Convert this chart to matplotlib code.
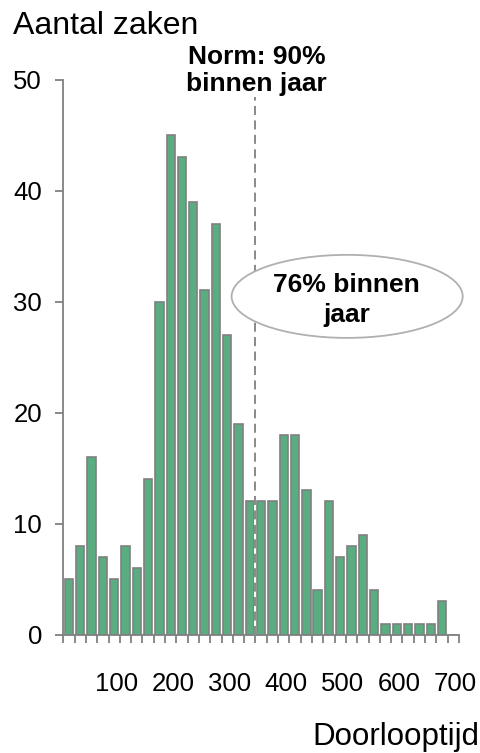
import matplotlib
matplotlib.use("Agg")
import matplotlib.pyplot as plt
from matplotlib.patches import Ellipse

# ---- data ----
counts = [5, 8, 16, 7, 5, 8, 6, 14, 30, 45, 43, 39, 31, 37, 27, 19, 12, 12,
          12, 18, 18, 13, 4, 12, 7, 8, 9, 4, 1, 1, 1, 1, 1, 3, 0]
x_labels = ["100", "200", "300", "400", "500", "600", "700"]
y_ticks = [0, 10, 20, 30, 40, 50]
norm_boundary = 17          # category boundary of the "one year" line
title_y = "Aantal zaken"
title_x = "Doorlooptijd"
norm_text = ["Norm: 90%", "binnen jaar"]
bubble_text = ["76% binnen", "jaar"]

FONT = ["Liberation Sans", "DejaVu Sans"]
plt.rcParams["font.family"] = FONT

W, H = 480, 753
fig = plt.figure(figsize=(W / 100, H / 100), dpi=100)
fig.patch.set_facecolor("white")

ax_left, ax_right = 63.3, 459.0
ax_top, ax_bottom = 79.5, 634.7
ax = fig.add_axes([ax_left / W, 1 - ax_bottom / H,
                   (ax_right - ax_left) / W, (ax_bottom - ax_top) / H])

n = len(counts)
pos = [i + 0.5 for i in range(n)]
ax.bar(pos, counts, width=0.74, color="#59ad80", edgecolor="#808080",
       linewidth=1.2, zorder=2)

ax.set_xlim(0, n)
ax.set_ylim(0, 50)

gray = "#808080"
for s in ["top", "right"]:
    ax.spines[s].set_visible(False)
for s in ["left", "bottom"]:
    ax.spines[s].set_color(gray)
    ax.spines[s].set_linewidth(1.3)

ax.set_yticks(y_ticks)
ax.set_yticklabels([str(v) for v in y_ticks])
ax.tick_params(axis="y", direction="out", length=5.8, width=1.3, color=gray,
               labelsize=18.5, pad=9.5, labelcolor="black")

# category boundary ticks (minor) and offset labels (major)
ax.set_xticks(range(0, n + 1), minor=True)
ax.tick_params(axis="x", which="minor", direction="out", length=5.8,
               width=1.3, color=gray)
label_pos = [5 * (k + 1) - 0.3 for k in range(len(x_labels))]
ax.set_xticks(label_pos)
ax.set_xticklabels(x_labels)
ax.tick_params(axis="x", which="major", length=0, labelsize=18.5, pad=26.5,
               labelcolor="black")

# norm line
ax.plot([norm_boundary, norm_boundary], [0, 48.4], color="white", lw=1.4,
        zorder=3, solid_capstyle="butt")
ax.plot([norm_boundary, norm_boundary], [0, 48.4], color=gray, lw=1.3,
        dashes=(5, 3), zorder=4)

# bubble
cx = (347 - ax_left) / 11.3
cy = (ax_bottom - 296.5) / 11.1
ell = Ellipse((cx, cy), 231 / 11.3, 83 / 11.1, facecolor="white",
              edgecolor="#b0b0b0", linewidth=1.3, zorder=5, clip_on=False)
ax.add_patch(ell)


def ftext(x, y, s, **kw):
    fig.text(x / W, 1 - y / H, s, **kw)


ftext(346.5, 291.5, bubble_text[0], fontsize=19, fontweight="bold",
      ha="center", va="baseline", zorder=6)
ftext(346.5, 321.5, bubble_text[1], fontsize=19, fontweight="bold",
      ha="center", va="baseline", zorder=6)

ftext(13, 34, title_y, fontsize=23, ha="left", va="baseline")
ftext(256.5, 64.5, norm_text[0], fontsize=19, fontweight="bold",
      ha="center", va="baseline")
ftext(256.5, 91, norm_text[1], fontsize=19, fontweight="bold",
      ha="center", va="baseline")
ftext(479.5, 745, title_x, fontsize=22.5, ha="right", va="baseline")

fig.savefig("out.png", dpi=100, facecolor="white")
